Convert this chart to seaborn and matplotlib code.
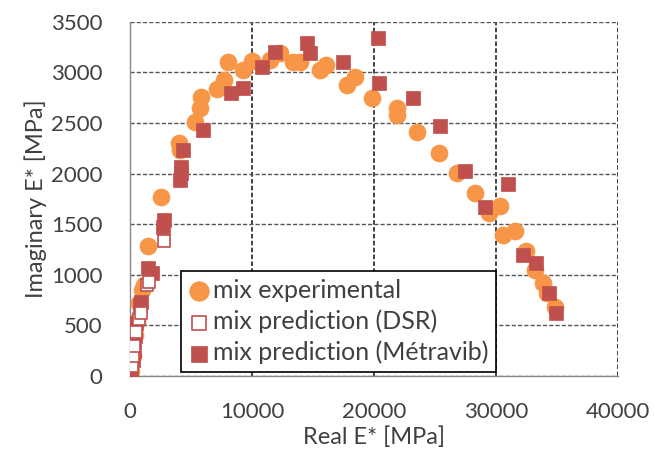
import pandas as pd
import matplotlib.pyplot as plt
import seaborn as sns

# mix experimental (Real E*, Imaginary E*) in MPa
exp_real = [100, 250, 400, 550, 750, 950, 1100, 1500, 2550, 4000, 4100,
            5300, 5750, 5850, 7100, 7700, 8050, 9250, 10000, 11500, 12300,
            13350, 13950, 15550, 16050, 17800, 18450, 19850, 21900, 21900,
            23500, 25350, 26800, 28300, 29450, 30350, 30600, 31550, 32450,
            33200, 33850, 34200, 34850]
exp_imag = [50, 200, 400, 540, 720, 850, 900, 1280, 1770, 2300, 2230,
            2510, 2650, 2760, 2835, 2925, 3100, 3020, 3110, 3120, 3190,
            3100, 3100, 3020, 3070, 2875, 2955, 2745, 2650, 2580,
            2410, 2200, 2005, 1810, 1610, 1680, 1395, 1435, 1235,
            1050, 920, 820, 680]

# mix prediction (DSR)
dsr_real = [150, 250, 350, 500, 700, 900, 1350, 1550, 2800]
dsr_imag = [100, 200, 300, 430, 560, 620, 900, 930, 1330]

# mix prediction (Metravib)
met_real = [0, 100, 200, 300, 400, 450, 800, 900, 1500, 1800, 2700, 2750,
            4100, 4150, 4200, 4350, 6000, 8300, 9250, 10800, 11900, 14500,
            14750, 17450, 20350, 20400, 23200, 25400, 27450, 29100, 31000,
            32200, 33300, 34350, 34900]
met_imag = [0, 60, 160, 260, 390, 520, 700, 730, 1070, 1020, 1470, 1540,
            1935, 2010, 2065, 2230, 2430, 2795, 2845, 3050, 3200, 3290,
            3190, 3100, 3340, 2895, 2745, 2470, 2025, 1670, 1895,
            1195, 1115, 820, 625]

df_exp = pd.DataFrame({'Real': exp_real, 'Imag': exp_imag})
df_dsr = pd.DataFrame({'Real': dsr_real, 'Imag': dsr_imag})
df_met = pd.DataFrame({'Real': met_real, 'Imag': met_imag})

sns.set_style('white')
plt.rcParams['font.family'] = ['Lato', 'DejaVu Sans']

txt = '#404040'
orange = '#F79646'
red = '#C0504D'

fig, ax = plt.subplots(figsize=(6.54, 4.54), dpi=100)
fig.subplots_adjust(left=0.199, right=0.945, top=0.952, bottom=0.172)

sns.scatterplot(data=df_exp, x='Real', y='Imag', ax=ax, marker='o', s=150,
                color=orange, edgecolor=orange, linewidth=0.5,
                label='mix experimental', zorder=3)
sns.scatterplot(data=df_met, x='Real', y='Imag', ax=ax, marker='s', s=110,
                color=red, edgecolor=red, linewidth=0.5,
                label='mix prediction (Métravib)', zorder=4)
sns.scatterplot(data=df_dsr, x='Real', y='Imag', ax=ax, marker='s', s=80,
                facecolor='white', edgecolor=red, linewidth=1.2,
                label='mix prediction (DSR)', zorder=5)

ax.set_xlim(0, 40000)
ax.set_ylim(0, 3500)
ax.set_xticks([0, 10000, 20000, 30000, 40000])
ax.set_yticks(range(0, 3501, 500))

ax.xaxis.grid(True, color='#111111', linestyle=(0, (3, 1.5)), linewidth=1.1)
ax.yaxis.grid(True, color='#555555', linestyle=(0, (3, 1.5)), linewidth=1.0)
ax.set_axisbelow(True)

for side in ['top', 'right']:
    ax.spines[side].set_visible(False)
for side in ['left', 'bottom']:
    ax.spines[side].set_color('#888888')
    ax.spines[side].set_linewidth(1.0)

ax.tick_params(axis='x', direction='inout', length=12, width=1.2,
               color='#222222', labelsize=16, labelcolor=txt, pad=13)
ax.tick_params(axis='y', direction='out', length=8, width=1.0,
               color='#555555', labelsize=16, labelcolor=txt, pad=12)

ax.set_xlabel('Real E* [MPa]', fontsize=17, color=txt, labelpad=3)
ax.set_ylabel('Imaginary E* [MPa]', fontsize=17, color=txt, labelpad=3)

handles, labels = ax.get_legend_handles_labels()
order = [0, 2, 1]
leg = ax.legend([handles[i] for i in order], [labels[i] for i in order],
                loc='lower left', bbox_to_anchor=(0.105, 0.012),
                fontsize=18, frameon=True, fancybox=False, framealpha=1,
                edgecolor='black', borderpad=0.3, labelspacing=0.3,
                handletextpad=0.15, handlelength=0.8, borderaxespad=0,
                markerscale=1.15)
leg.get_frame().set_linewidth(1.2)
leg.set_zorder(10)
for t in leg.get_texts():
    t.set_color(txt)

plt.savefig('out.png', dpi=100)
